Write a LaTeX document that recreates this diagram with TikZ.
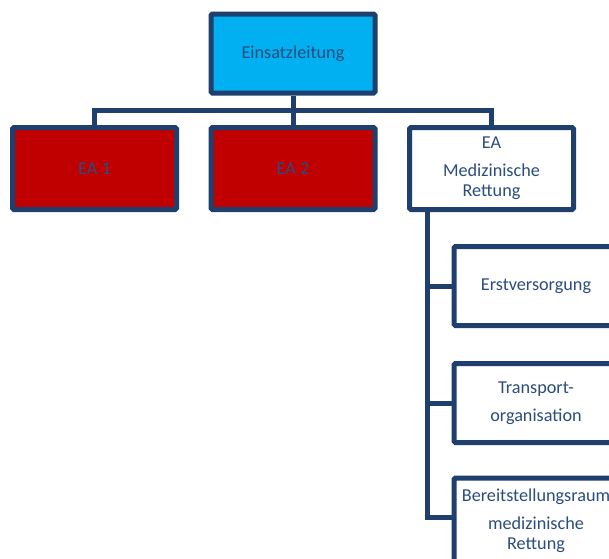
\documentclass[tikz,border=0pt]{standalone}
\usepackage{fontspec}
\setmainfont{Carlito}
\definecolor{lineblue}{HTML}{1F3F6E}
\definecolor{textblue}{HTML}{2B4D7E}
\definecolor{boxcyan}{HTML}{00B0F0}
\definecolor{boxred}{HTML}{C00000}
\begin{document}
\begin{tikzpicture}[x=1pt,y=-1pt,
  orgbox/.style={draw=lineblue, line width=5pt, rounded corners=1.5pt,
    minimum width=164pt, minimum height=80pt, inner sep=2pt,
    align=center, text=textblue,
    font=\fontsize{18.2}{20}\selectfont},
  conn/.style={draw=lineblue, line width=5pt}]
\useasboundingbox (0,0) rectangle (609,558);
\clip (0,0) rectangle (609,558);
\node[orgbox, fill=boxcyan, minimum height=79pt] (top) at (293,53.5) {Einsatzleitung};
\node[orgbox, fill=boxred, minimum height=82pt] (ea1) at (94.5,168.5) {EA 1};
\node[orgbox, fill=boxred, minimum height=82pt] (ea2) at (293,168.5) {EA 2};
\node[orgbox, fill=white, minimum height=82pt] (eamed) at (491.5,168.5) {EA\\[8pt]Medizinische\\Rettung};
\node[orgbox, fill=white, minimum height=79pt, anchor=west] (erst) at (451.5,286) {Erstversorgung};
\node[orgbox, fill=white, minimum height=79pt, anchor=west] (trans) at (451.5,403) {Transport-\\[8pt]organisation};
\node[orgbox, fill=white, minimum height=86pt, anchor=west] (bereit) at (451.5,521) {Bereitstellungsraum\\[8pt]medizinische\\Rettung};
\coordinate (bus) at (0,110);
\coordinate (spine) at (427,0);
\draw[conn] (top.south) -- (ea2.north);
\draw[conn] (ea1.north) |- (bus -| eamed.north) -- (eamed.north);
\draw[conn] (eamed.south -| spine) |- (bereit.west |- 0,517);
\draw[conn] (spine |- erst.west) -- (erst.west);
\draw[conn] (spine |- trans.west) -- (trans.west);
\end{tikzpicture}
\end{document}
